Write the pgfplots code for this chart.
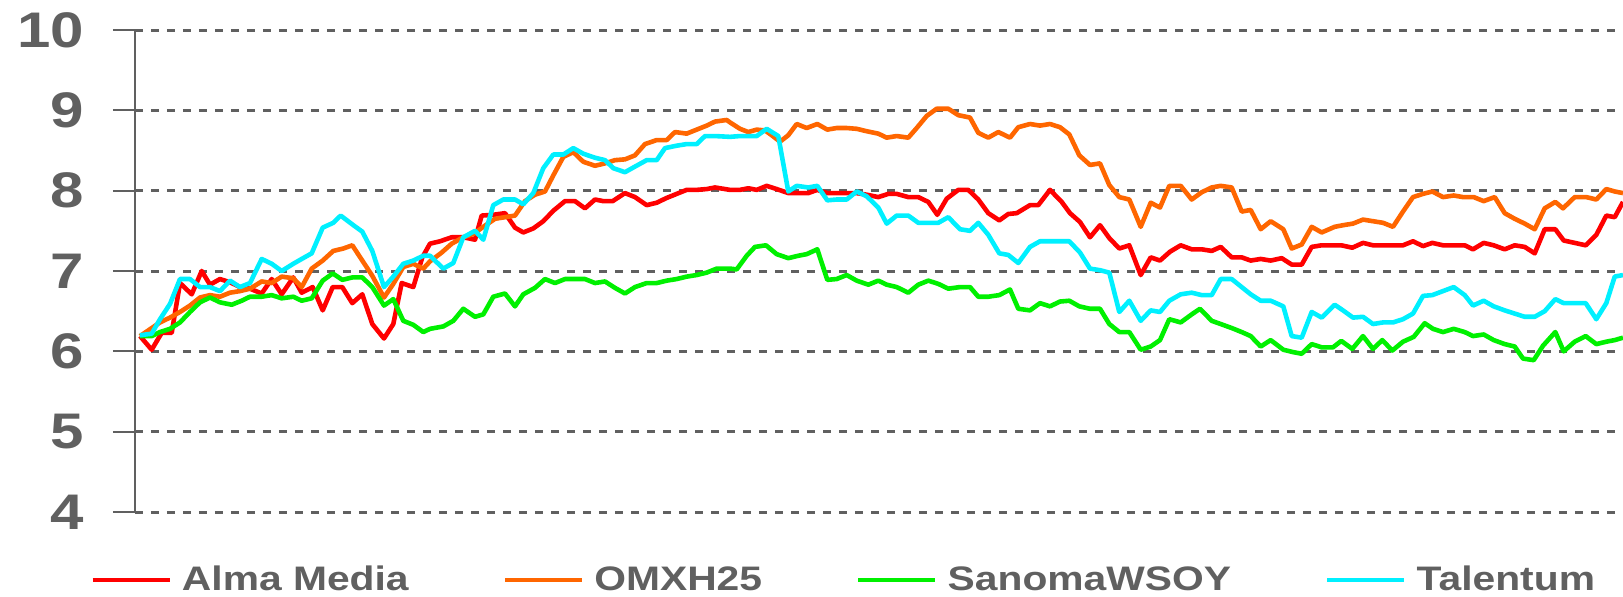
\documentclass[border=0pt]{standalone}
\usepackage{fontspec}
\setmainfont{Liberation Sans}[FakeStretch=1.2]
\usepackage{pgfplots}
\pgfplotsset{compat=1.18}
\definecolor{txtgray}{HTML}{606060}
\definecolor{cAlma}{HTML}{FF0000}
\definecolor{cOMX}{HTML}{FF6600}
\definecolor{cSanoma}{HTML}{00F000}
\definecolor{cTal}{HTML}{00F0FF}

\begin{document}
\begin{tikzpicture}
\path[use as bounding box] (-67.5pt,-42pt) rectangle (744pt,256pt);
\begin{axis}[
    at={(0pt,0pt)}, anchor=south west,
    scale only axis, width=744pt, height=241pt,
    xmin=135, xmax=1623, ymin=4, ymax=10,
    axis x line=none, axis y line*=left,
    ytick={4,5,6,7,8,9,10},
    tick align=outside, major tick length=11pt,
    tick style={txtgray, line width=1pt},
    axis line style={txtgray, line width=1pt},
    ymajorgrids=true,
    grid style={txtgray, line width=1.5pt, dash pattern=on 4pt off 4pt},
    /pgf/number format/assume math mode=true,
    yticklabel style={font=\fontsize{25}{26}\selectfont\bfseries, text=txtgray, anchor=east, xshift=-11pt},
    every axis plot/.append style={line width=2.3pt, line join=round, no marks},
    legend image code/.code={\draw[#1] (0pt,0pt) -- (38.5pt,0pt);},
    legend columns=4,
    legend style={at={([xshift=-22.5pt,yshift=-34pt]axis description cs:0,0)}, anchor=west,
        draw=none, fill=none, inner sep=0pt,
        font=\fontsize{17}{18}\selectfont\bfseries, text=txtgray,
        nodes={inner sep=0pt},
        /tikz/every odd column/.append style={column sep=5pt},
        /tikz/every even column/.append style={column sep=47pt}},
]
% Alma Media
\addplot[cAlma] coordinates {
(140,6.19) (151.7,6.02) (161.7,6.23) (171.7,6.23) (180,6.85) (191.7,6.71) (201.7,7.00) (210,6.83)
(220,6.90) (230,6.86) (240,6.80) (250,6.78) (261.7,6.72) (271.7,6.90) (281.7,6.71) (293.3,6.92)
(301.7,6.73) (312.7,6.80) (322.7,6.51) (332.7,6.80) (342.3,6.80) (352.3,6.60) (362.3,6.71) (372.3,6.34)
(384,6.16) (393.3,6.34) (401.7,6.85) (413.3,6.80) (422.3,7.17) (430,7.34) (440,7.37) (451.7,7.42)
(463.3,7.42) (475,7.39) (481.7,7.69) (493.3,7.70) (505,7.72) (515,7.54) (523.3,7.48) (533.3,7.53)
(543.3,7.62) (553.3,7.75) (565,7.87) (575,7.87) (585,7.78) (595,7.89) (603.3,7.87) (612.7,7.87)
(625,7.97) (635,7.92) (646.7,7.82) (656.7,7.85) (666.7,7.91) (676.7,7.96) (686.7,8.01) (696.7,8.01)
(706.7,8.02) (715,8.04) (730,8.01) (740,8.01) (748.3,8.03) (756.7,8.01) (766.7,8.06) (776.7,8.02)
(788.3,7.97) (798.3,7.97) (808.3,7.97) (817.3,8.01) (827.3,7.97) (836.7,7.97) (846.7,7.97) (856.7,7.97)
(866.7,7.95) (878.3,7.92) (888.3,7.96) (896.7,7.96) (908.3,7.92) (918.3,7.92) (928.3,7.86) (937.3,7.70)
(946.7,7.90) (958.3,8.01) (968.3,8.01) (978.3,7.89) (988.3,7.72) (999.3,7.63) (1008.3,7.71) (1016.7,7.72)
(1030,7.82) (1038.3,7.82) (1050,8.01) (1061.7,7.86) (1070,7.72) (1080,7.61) (1090,7.42) (1100,7.57)
(1109.3,7.41) (1119.3,7.28) (1129.3,7.32) (1140.7,6.95) (1150.7,7.17) (1160,7.13) (1170,7.24) (1180.7,7.32)
(1191.7,7.27) (1201.7,7.27) (1211.7,7.25) (1220.7,7.30) (1231.7,7.17) (1241.7,7.17) (1250.7,7.13) (1260.7,7.15)
(1270.7,7.13) (1281.7,7.16) (1291.7,7.08) (1301.7,7.08) (1311.7,7.30) (1321.7,7.32) (1333,7.32) (1341.3,7.32)
(1352.3,7.29) (1363,7.35) (1373,7.32) (1383,7.32) (1393,7.32) (1403,7.32) (1413,7.37) (1423,7.31)
(1432.3,7.35) (1443,7.32) (1453.7,7.32) (1464.7,7.32) (1473,7.27) (1483.7,7.35) (1493.7,7.32) (1504.7,7.27)
(1514.7,7.32) (1524.7,7.30) (1534.7,7.22) (1544.7,7.52) (1555.3,7.52) (1563.7,7.38) (1574.7,7.35) (1585.7,7.32)
(1596.3,7.45) (1606.3,7.69) (1614.7,7.67) (1623,7.86)
};
\addlegendentry{Alma Media}
% OMXH25
\addplot[cOMX] coordinates {
(140,6.19) (160,6.36) (170,6.42) (180,6.49) (190,6.57) (200,6.67) (210,6.70) (220,6.68)
(230,6.73) (240,6.75) (250,6.78) (261.7,6.87) (271.7,6.85) (281.7,6.93) (293.3,6.91) (301.7,6.80)
(311.7,7.03) (322.7,7.13) (333.3,7.25) (343.3,7.28) (352.3,7.32) (362.3,7.13) (372.3,6.94) (384,6.67)
(393.3,6.84) (403.3,7.05) (413.3,7.09) (423.3,7.03) (430,7.12) (441.7,7.23) (451.7,7.34) (463.3,7.42)
(473.3,7.46) (483.3,7.55) (495,7.65) (505,7.67) (515,7.69) (525,7.87) (535,7.95) (545,7.99)
(553.3,8.19) (563.3,8.42) (573.3,8.48) (583.3,8.36) (595,8.31) (605,8.34) (615,8.38) (625,8.39)
(635,8.44) (645,8.58) (656.7,8.63) (666.7,8.63) (675,8.73) (686.7,8.71) (696.7,8.76) (706.7,8.81)
(715,8.86) (726.7,8.88) (730,8.85) (740,8.77) (748.3,8.73) (756.7,8.76) (765,8.75) (771.7,8.69)
(780,8.61) (788.3,8.69) (796.7,8.83) (806.7,8.78) (817.3,8.83) (827.3,8.76) (836.7,8.78) (846.7,8.78)
(856.7,8.77) (866.7,8.74) (878.3,8.71) (886.7,8.66) (896.7,8.68) (908.3,8.66) (916.7,8.78) (926.7,8.93)
(936.7,9.02) (948.3,9.02) (958.3,8.94) (970,8.91) (978.3,8.72) (988.3,8.66) (998.3,8.73) (1010,8.66)
(1018.3,8.79) (1030,8.83) (1040,8.81) (1050,8.83) (1060,8.79) (1069.3,8.70) (1079.3,8.44) (1090,8.32)
(1100,8.34) (1109.3,8.07) (1119.3,7.92) (1129.3,7.89) (1140.7,7.55) (1150.7,7.85) (1160,7.79) (1169.3,8.06)
(1180.7,8.06) (1191.7,7.89) (1201.7,7.98) (1211.7,8.04) (1220.7,8.06) (1231.7,8.04) (1241.7,7.74) (1250.7,7.76)
(1260.7,7.52) (1270.7,7.62) (1283.3,7.52) (1291.7,7.28) (1301.7,7.33) (1311.7,7.55) (1321.7,7.48) (1334.7,7.55)
(1343,7.57) (1353,7.59) (1363,7.64) (1373,7.62) (1383,7.60) (1393,7.55) (1403,7.74) (1413,7.92)
(1423,7.96) (1432.3,7.99) (1443,7.92) (1453.7,7.94) (1463,7.92) (1473.7,7.92) (1483.7,7.87) (1494.7,7.92)
(1504.7,7.72) (1514.7,7.65) (1524.7,7.59) (1534.7,7.52) (1544.7,7.78) (1555.3,7.86) (1563,7.78) (1574.7,7.92)
(1586.3,7.92) (1596.3,7.89) (1606.3,8.02) (1614.7,7.99) (1623,7.97)
};
\addlegendentry{OMXH25}
% SanomaWSOY
\addplot[cSanoma] coordinates {
(140,6.19) (151.7,6.19) (160,6.24) (170,6.28) (180,6.36) (190,6.49) (200,6.61) (210,6.67)
(220,6.61) (231.7,6.58) (241.7,6.63) (250,6.68) (261.7,6.68) (271.7,6.70) (281.7,6.66) (293.3,6.68)
(301.7,6.63) (311.7,6.66) (322.7,6.88) (332.7,6.97) (342.3,6.89) (352.3,6.92) (362.3,6.92) (372.3,6.80)
(384,6.57) (393.3,6.65) (403.3,6.38) (413.3,6.33) (423.3,6.24) (430,6.28) (443.3,6.31) (453.3,6.38)
(463.3,6.53) (475,6.43) (483.3,6.46) (493.3,6.68) (505,6.72) (515,6.56) (523.3,6.71) (535,6.79)
(545,6.90) (555,6.85) (565,6.90) (575,6.90) (585,6.90) (595,6.85) (605,6.87) (615,6.79)
(625,6.72) (635,6.80) (646.7,6.85) (656.7,6.85) (666.7,6.88) (676.7,6.90) (686.7,6.93) (696.7,6.95)
(706.7,6.98) (716.7,7.03) (730,7.03) (736.7,7.02) (746.7,7.19) (755,7.30) (766,7.32) (776.7,7.21)
(788.3,7.16) (798.3,7.19) (806.7,7.21) (817.3,7.27) (827.3,6.89) (836.7,6.90) (846.7,6.95) (856.7,6.88)
(868.3,6.83) (878.3,6.88) (886.7,6.83) (896.7,6.80) (908.3,6.73) (918.3,6.83) (928.3,6.88) (938.3,6.84)
(948.3,6.78) (960,6.80) (970,6.80) (978.3,6.68) (988.3,6.68) (999.3,6.70) (1010,6.77) (1018.3,6.53)
(1030,6.51) (1040,6.60) (1050,6.56) (1060,6.62) (1069.3,6.63) (1079.3,6.56) (1090,6.53) (1100,6.53)
(1109.3,6.34) (1119.3,6.24) (1129.3,6.24) (1140.7,6.02) (1150.7,6.06) (1160,6.14) (1169.3,6.40) (1180.7,6.36)
(1191.7,6.46) (1200,6.53) (1211.7,6.38) (1220.7,6.34) (1231.7,6.29) (1241.7,6.24) (1250.7,6.19) (1260.7,6.06)
(1270.7,6.14) (1283.3,6.02) (1293.3,5.99) (1301.7,5.97) (1311.7,6.09) (1321.7,6.05) (1333,6.05) (1341.3,6.13)
(1352.3,6.03) (1363,6.19) (1373,6.03) (1382.3,6.14) (1392.3,6.01) (1403,6.12) (1413.7,6.18) (1424.7,6.35)
(1433,6.28) (1443,6.24) (1453.7,6.28) (1464.7,6.24) (1473,6.19) (1483.7,6.21) (1493.7,6.14) (1504.7,6.09)
(1514.7,6.06) (1523,5.91) (1533.7,5.89) (1543,6.07) (1555.3,6.24) (1563.7,6.00) (1574.7,6.12) (1585.7,6.19)
(1596.3,6.09) (1606.3,6.12) (1614.7,6.14) (1623,6.17)
};
\addlegendentry{SanomaWSOY}
% Talentum
\addplot[cTal] coordinates {
(140,6.20) (151.7,6.22) (160,6.40) (170,6.59) (180,6.90) (190,6.90) (200,6.80) (210,6.80)
(220,6.75) (230,6.88) (240,6.80) (250,6.85) (261.7,7.15) (271.7,7.09) (281.7,7.00) (293.3,7.09)
(301.7,7.15) (311.7,7.22) (322.7,7.54) (333.3,7.60) (340.7,7.69) (352.3,7.58) (362.3,7.49) (372.3,7.25)
(384,6.80) (393.3,6.93) (403.3,7.09) (413.3,7.13) (423.3,7.19) (430,7.19) (443.3,7.03) (453.3,7.10)
(463.3,7.42) (475,7.50) (483.3,7.39) (493.3,7.82) (503.3,7.89) (515,7.89) (523.3,7.83) (533.3,7.97)
(543.3,8.28) (553.3,8.45) (563.3,8.45) (573.3,8.53) (583.3,8.46) (595,8.41) (605,8.38) (613.3,8.28)
(625,8.23) (635,8.30) (646.7,8.38) (656.7,8.38) (665,8.53) (676.7,8.56) (686.7,8.58) (696.7,8.58)
(705,8.68) (715,8.68) (730,8.67) (740,8.68) (748.3,8.68) (756.7,8.68) (766.7,8.77) (778.3,8.68)
(788.3,7.99) (796.7,8.06) (808.3,8.04) (817.3,8.06) (827.3,7.88) (836.7,7.89) (846.7,7.89) (856.7,7.99)
(866.7,7.93) (878.3,7.79) (886.7,7.59) (896.7,7.69) (908.3,7.69) (918.3,7.60) (928.3,7.60) (938.3,7.60)
(948.3,7.67) (960,7.52) (970,7.50) (978.3,7.60) (988.3,7.45) (999.3,7.22) (1008.3,7.20) (1018.3,7.10)
(1030,7.30) (1040,7.37) (1050,7.37) (1060,7.37) (1069.3,7.37) (1080,7.23) (1090,7.03) (1100,7.01)
(1109.3,6.98) (1119.3,6.49) (1129.3,6.63) (1140.7,6.38) (1150.7,6.51) (1160,6.49) (1169.3,6.63) (1180.7,6.71)
(1191.7,6.73) (1201.7,6.70) (1211.7,6.70) (1220.7,6.90) (1231.7,6.90) (1241.7,6.80) (1250.7,6.71) (1260.7,6.63)
(1270.7,6.63) (1283.3,6.56) (1291.7,6.19) (1301.7,6.17) (1311.7,6.49) (1321.7,6.42) (1334.7,6.58) (1343,6.51)
(1353,6.42) (1363,6.43) (1373,6.34) (1383,6.36) (1393,6.36) (1403,6.40) (1413,6.47) (1423,6.69)
(1432.3,6.70) (1443,6.75) (1453.7,6.80) (1464.7,6.70) (1473,6.57) (1483.7,6.63) (1493.7,6.56) (1504.7,6.51)
(1514.7,6.47) (1524.7,6.43) (1534.7,6.43) (1544.7,6.50) (1555.3,6.65) (1563.7,6.60) (1574.7,6.60) (1585.7,6.60)
(1596.3,6.40) (1606.3,6.60) (1614.7,6.93) (1623,6.95)
};
\addlegendentry{Talentum}
\end{axis}
\end{tikzpicture}
\end{document}
